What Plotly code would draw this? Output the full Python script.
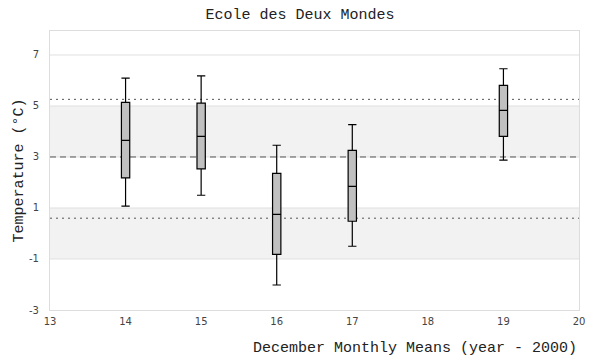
import plotly.graph_objects as go

years = [14, 15, 16, 17, 19]
upper = [6.09, 6.18, 3.46, 4.27, 6.46]
q3 = [5.14, 5.11, 2.36, 3.26, 5.81]
median = [3.65, 3.81, 0.75, 1.85, 4.83]
q1 = [2.18, 2.53, -0.82, 0.48, 3.81]
lower = [1.07, 1.50, -2.02, -0.50, 2.88]

mean_line = 3.0
dotted_lines = [5.26, 0.60]
bands = [(3, 5), (-1, 1)]
yticks = [-3, -1, 1, 3, 5, 7]
xticks = [13, 14, 15, 16, 17, 18, 19, 20]

mono = "Liberation Mono, Courier New, monospace"
sans = "DejaVu Sans, Verdana, sans-serif"

W, H = 592, 352

fig = go.Figure()
fig.add_trace(go.Box(
    x=years, q1=q1, median=median, q3=q3, lowerfence=lower, upperfence=upper,
    boxpoints=False, width=0.11, whiskerwidth=1,
    fillcolor="#c0c0c0", line=dict(color="black", width=1.2),
    showlegend=False, hoverinfo="skip",
))

shapes = []
for y0, y1 in bands:
    shapes.append(dict(type="rect", xref="paper", yref="y", x0=0, x1=1, y0=y0, y1=y1,
                       fillcolor="#f2f2f2", line=dict(width=0), layer="below"))
for t in yticks[1:]:
    shapes.append(dict(type="line", xref="paper", yref="y", x0=0, x1=1, y0=t, y1=t,
                       line=dict(color="#e0e0e0", width=1), layer="below"))
shapes.append(dict(type="line", xref="paper", yref="y", x0=0, x1=1, y0=mean_line, y1=mean_line,
                   line=dict(color="#555555", width=1, dash="6px,4px"), layer="below"))
for v in dotted_lines:
    shapes.append(dict(type="line", xref="paper", yref="y", x0=0, x1=1, y0=v, y1=v,
                       line=dict(color="#555555", width=1, dash="2px,4px"), layer="below"))

annotations = [
    dict(text="December Monthly Means (year - 2000)", xref="paper", yref="paper",
         x=1.0, y=-38/279, xanchor="right", yanchor="middle", showarrow=False,
         font=dict(family=mono, size=15, color="#222222")),
    dict(text="Temperature (°C)", xref="paper", yref="paper", textangle=-90,
         x=-31/529, y=0.5, xanchor="center", yanchor="middle", showarrow=False,
         font=dict(family=mono, size=15, color="#222222")),
]

fig.update_layout(
    width=W, height=H,
    margin=dict(l=42, r=21, t=23, b=50, autoexpand=False),
    paper_bgcolor="white", plot_bgcolor="white",
    shapes=shapes, annotations=annotations,
    title=dict(text="Ecole des Deux Mondes", x=292/W, xanchor="center", y=1 - 6/H, yanchor="middle",
               font=dict(family=mono, size=15, color="#222222")),
    xaxis=dict(range=[13, 20], tickvals=xticks, ticktext=[str(t) for t in xticks],
               showgrid=False, zeroline=False, showline=True, linecolor="#dddddd", mirror=True,
               ticks="", ticklabelstandoff=2, automargin=False,
               tickfont=dict(family=sans, size=10, color="#444444")),
    yaxis=dict(range=[-3, 7.94], tickvals=yticks, ticktext=[str(t) for t in yticks],
               showgrid=False, zeroline=False,
               showline=True, linecolor="#dddddd", mirror=True,
               ticks="", ticklabelstandoff=8, automargin=False,
               tickfont=dict(family=sans, size=10, color="#444444")),
)

fig.write_html("out.html")
